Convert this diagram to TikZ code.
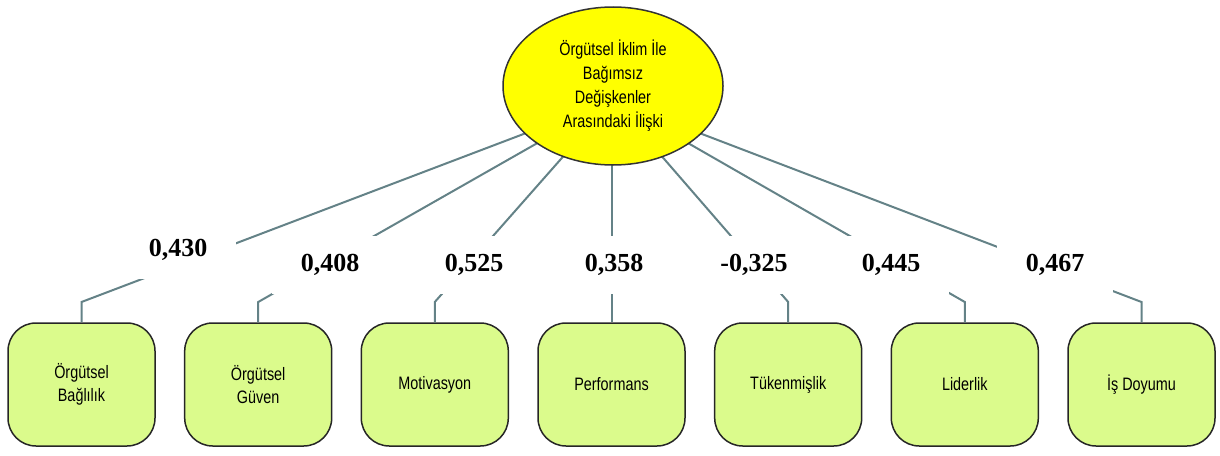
\documentclass[tikz,border=0pt]{standalone}
\usepackage{fontspec}
\usetikzlibrary{shapes.geometric}
\setmainfont{Liberation Serif}
\newfontfamily\nfont[FakeStretch=0.8]{Liberation Sans}
\definecolor{linec}{RGB}{100,130,135}
\definecolor{boxfill}{RGB}{219,251,140}
\definecolor{ellfill}{RGB}{255,255,0}
\begin{document}
\begin{tikzpicture}[x=1pt,y=-1pt,
  var/.style={draw=black!85, line width=1.5pt, fill=boxfill, rounded corners=28pt,
    minimum width=147pt, minimum height=123pt, align=center, inner sep=0pt,
    font=\nfont\fontsize{18}{23.5}\selectfont},
  central/.style={ellipse, draw=black!80, line width=1.5pt, fill=ellfill,
    minimum width=220pt, minimum height=158pt, inner sep=0pt, align=center,
    font=\nfont\fontsize{18}{24}\selectfont},
  conn/.style={draw=linec, line width=2pt},
  val/.style={fill=white, minimum width=116pt, minimum height=58pt, inner sep=0pt,
    font=\bfseries\fontsize{26}{30}\selectfont}
]
\useasboundingbox (0,0) rectangle (1220,455);
\coordinate (hub) at (613,100);
% variable boxes
\node[var] (b1) at (81.5,384.5) {Örgütsel\\Bağlılık};
\node[var] (b2) at (258.2,384.5) {Örgütsel\\Güven};
\node[var] (b3) at (434.8,384.5) {Motivasyon};
\node[var] (b4) at (611.5,384.5) {Performans};
\node[var] (b5) at (788.2,384.5) {Tükenmişlik};
\node[var] (b6) at (964.8,384.5) {Liderlik};
\node[var] (b7) at (1141.5,384.5) {İş Doyumu};
% kink points
\coordinate (k1) at (81.5,302);
\coordinate (k2) at (258.2,302);
\coordinate (k3) at (434.8,302);
\coordinate (k4) at (611.5,302);
\coordinate (k5) at (788.2,302);
\coordinate (k6) at (964.8,302);
\coordinate (k7) at (1141.5,302);
\coordinate (hub4) at (611.5,100);
% connectors
\draw[conn] (hub) -- (k1) -- (b1.north);
\draw[conn] (hub) -- (k2) -- (b2.north);
\draw[conn] (hub) -- (k3) -- (b3.north);
\draw[conn] (hub4) -- (k4) -- (b4.north);
\draw[conn] (hub) -- (k5) -- (b5.north);
\draw[conn] (hub) -- (k6) -- (b6.north);
\draw[conn] (hub) -- (k7) -- (b7.north);
% central ellipse
\node[central] (E) at (613,86) {Örgütsel İklim İle\\Bağımsız\\Değişkenler\\Arasındaki İlişki};
% values
\node[val] (v1) at (178,250) {0,430};
\node[val] (v2) at (330,265) {0,408};
\node[val] (v3) at (474,265) {0,525};
\node[val] (v4) at (614,265) {0,358};
\node[val] (v5) at (754,265) {-0,325};
\node[val] (v6) at (891,265) {0,445};
\node[val] (v7) at (1055,265) {0,467};
\end{tikzpicture}
\end{document}
